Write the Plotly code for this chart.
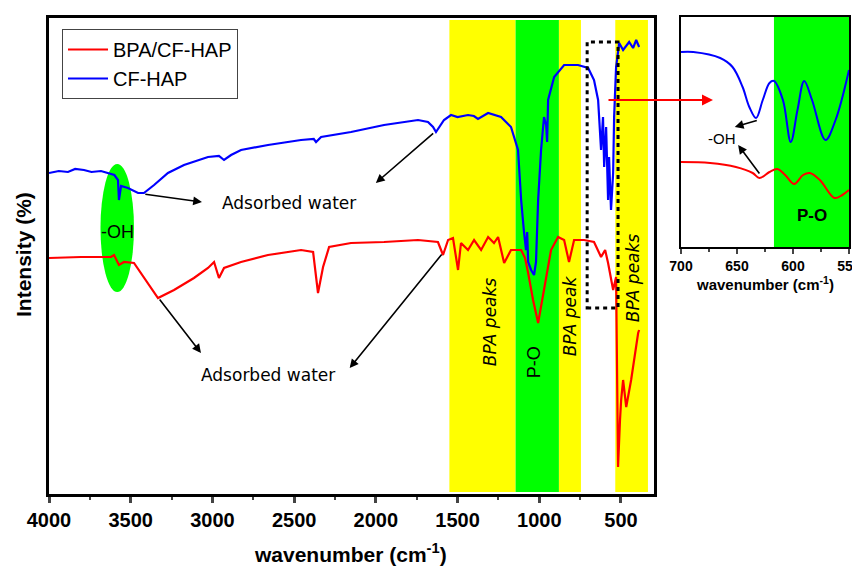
import plotly.graph_objects as go

# ---------------- data ----------------
# CF-HAP (blue) main spectrum: wavenumber (cm-1), intensity (a.u.)
wn_blue = [4000, 3940, 3884, 3840, 3786, 3740, 3682, 3639, 3600, 3578, 3572, 3559, 3517, 3455, 3419,
           3357, 3272, 3174, 3100, 3027, 2960, 2929, 2886, 2825, 2660, 2458, 2380, 2366, 2335, 2152,
           1950, 1742, 1681, 1650, 1632, 1583, 1540, 1500, 1436, 1400, 1375, 1313, 1234, 1173, 1130,
           1111, 1093, 1081, 1074, 1068, 1050, 1032, 1020, 1007, 989, 971, 958, 952, 946, 909,
           848, 763, 701, 665, 640, 634, 622, 610, 603, 591, 579, 573, 561, 548, 542,
           530, 511, 487, 450, 426, 407, 389]
int_blue = [320, 322, 321, 324, 323, 321, 322, 320, 318, 313, 293, 307, 305, 300, 300,
            308, 320, 328, 332, 336, 337, 333, 338, 343, 348, 353, 354, 351, 356, 361,
            368, 373, 371, 366, 361, 373, 378, 376, 378, 377, 374, 380, 376, 366, 343,
            293, 260, 243, 261, 231, 223, 218, 231, 293, 343, 376, 368, 351, 393, 416,
            428, 428, 425, 413, 393, 376, 343, 376, 326, 366, 293, 336, 283, 320, 376,
            426, 450, 443, 451, 445, 453, 446]

# BPA/CF-HAP (red) main spectrum
wn_red = [4000, 3804, 3621, 3602, 3572, 3541, 3480, 3419, 3333, 3235, 3113, 3027, 2990, 2960, 2929,
          2825, 2660, 2458, 2384, 2354, 2323, 2286, 2152, 1950, 1742, 1620, 1589, 1558, 1528, 1497,
          1479, 1436, 1399, 1356, 1313, 1277, 1252, 1215, 1173, 1111, 1087, 1068, 1038, 1007, 971,
          928, 885, 848, 818, 787, 726, 665, 622, 597, 579, 548, 530, 518, 506, 499,
          487, 468, 438, 413, 395, 389]
int_red = [235, 236, 236, 238, 228, 231, 230, 216, 195, 203, 215, 225, 231, 215, 225,
           231, 238, 243, 241, 200, 226, 246, 250, 251, 253, 251, 238, 253, 255, 223,
           250, 243, 253, 243, 256, 250, 256, 230, 243, 243, 235, 220, 193, 170, 203,
           243, 256, 253, 231, 253, 253, 251, 236, 243, 230, 203, 216, 26, 73, 93,
           113, 86, 113, 143, 160, 163]

# inset (700-550 cm-1)
wn_inset_blue = [700, 689, 665, 654, 645, 639, 633, 627, 621, 617, 609, 602, 596, 590, 583, 571, 562, 550]
int_inset_blue = [196, 196, 190, 181, 161, 141, 130, 148, 165, 167, 148, 106, 138, 167, 148, 108, 128, 178]
wn_inset_red = [700, 674, 651, 636, 630, 621, 614, 607, 599, 591, 585, 576, 563, 556, 550]
int_inset_red = [86, 85, 81, 75, 70, 76, 79, 73, 64, 73, 75, 68, 50, 53, 58]

# highlighted bands (cm-1)
yellow_bands = [(1550, 1145), (880, 745), (535, 335)]
green_bands = [(1145, 880)]
inset_green_band = (617, 550)
band_labels = ["BPA peaks", "P-O", "BPA peak", "BPA peaks"]
band_label_x = [1300, 1030, 810, 425]

x_ticks = [4000, 3500, 3000, 2500, 2000, 1500, 1000, 500]
inset_ticks = [700, 650, 600, 550]

RED = "#ff0000"
BLUE = "#0000ff"
YELLOW = "#ffff00"
GREEN = "#00ff00"
SANS = "Liberation Sans"
HAND = "DejaVu Sans"

# page has an 8px body margin; figure is sized so that it fills the window
OFF = 8
W, H = 860 - OFF, 570 - OFF
# screen-pixel plot area: x 49..851, y 17..494
L, T = 49 - OFF, 17 - OFF
R, B = W - (851 - OFF), H - (494 - OFF)
PW, PH = W - L - R, H - T - B


def px(xs):
    return (xs - OFF - L) / PW


def py(ys):
    return (H - B - (ys - OFF)) / PH


fig = go.Figure()

fig.add_trace(go.Scatter(x=wn_blue, y=int_blue, mode="lines", name="CF-HAP",
                         line=dict(color=BLUE, width=2.2), legendrank=2))
fig.add_trace(go.Scatter(x=wn_red, y=int_red, mode="lines", name="BPA/CF-HAP",
                         line=dict(color=RED, width=2.2), legendrank=1))
fig.add_trace(go.Scatter(x=wn_inset_blue, y=int_inset_blue, mode="lines", showlegend=False,
                         line=dict(color=BLUE, width=2, shape="spline"), xaxis="x2", yaxis="y2"))
fig.add_trace(go.Scatter(x=wn_inset_red, y=int_inset_red, mode="lines", showlegend=False,
                         line=dict(color=RED, width=2, shape="spline"), xaxis="x2", yaxis="y2"))

shapes = []
for a, b in yellow_bands:
    shapes.append(dict(type="rect", xref="x", yref="y", x0=a, x1=b, y0=1, y1=473,
                       fillcolor=YELLOW, line=dict(width=0), layer="below"))
for a, b in green_bands:
    shapes.append(dict(type="rect", xref="x", yref="y", x0=a, x1=b, y0=1, y1=473,
                       fillcolor=GREEN, line=dict(width=0), layer="below"))
# -OH ellipse
shapes.append(dict(type="circle", xref="x", yref="y", x0=3685, x1=3480, y0=201, y1=329,
                   fillcolor=GREEN, line=dict(width=0), layer="below"))
# dashed zoom box
shapes.append(dict(type="rect", xref="x", yref="y", x0=707, x1=518, y0=185, y1=451,
                   line=dict(color="black", width=3, dash="4px,4px"), fillcolor="rgba(0,0,0,0)"))
# inset band
shapes.append(dict(type="rect", xref="x2", yref="y2", x0=inset_green_band[0], x1=inset_green_band[1],
                   y0=1, y1=231, fillcolor=GREEN, line=dict(width=0), layer="below"))

ann = []
for txt, xx in zip(band_labels, band_label_x):
    if txt == "P-O":
        ann.append(dict(x=xx, y=131, xref="x", yref="y", text=txt, showarrow=False, textangle=-90,
                        font=dict(family=SANS, size=18, color="black")))
    else:
        yy = {1300: 171, 810: 177, 425: 215}[xx]
        ann.append(dict(x=xx, y=yy, xref="x", yref="y", text="<i>" + txt + "</i>", showarrow=False,
                        textangle=-90, font=dict(family=HAND, size=17, color="black")))

ann.append(dict(x=3578, y=261, xref="x", yref="y", text="-OH", showarrow=False,
                font=dict(family=SANS, size=18, color="black")))
ann.append(dict(x=2530, y=290, xref="x", yref="y", text="Adsorbed water", showarrow=False,
                font=dict(family=HAND, size=17, color="black")))
ann.append(dict(x=2660, y=118, xref="x", yref="y", text="Adsorbed water", showarrow=False,
                font=dict(family=HAND, size=17, color="black")))


def arrow(xh, yh, xt, yt, xr="x", yr="y", color="black", w=1.6):
    return dict(x=xh, y=yh, ax=xt, ay=yt, xref=xr, yref=yr, axref=xr, ayref=yr, text="",
                showarrow=True, arrowhead=2, arrowsize=1.1, arrowwidth=w, arrowcolor=color)


ann.append(arrow(3064, 291, 3420, 299))
ann.append(arrow(2000, 310, 1640, 361))
ann.append(arrow(3070, 140, 3330, 195))
ann.append(arrow(2160, 125, 1590, 240))
# inset arrows
ann.append(arrow(652, 121, 631, 128, "x2", "y2"))
ann.append(arrow(649, 103, 629, 73, "x2", "y2"))
ann.append(dict(x=663, y=110, xref="x2", yref="y2", text="-OH", showarrow=False,
                font=dict(family=SANS, size=15, color="black")))
ann.append(dict(x=583, y=33, xref="x2", yref="y2", text="<b>P-O</b>", showarrow=False,
                font=dict(family=SANS, size=17, color="black")))
# red connector arrow to inset
ann.append(dict(x=px(713), y=py(100), xref="paper", yref="paper",
                ax=-106, ay=0, text="", showarrow=True, arrowhead=2, arrowsize=1.1,
                arrowwidth=2, arrowcolor=RED))
# axis titles
ann.append(dict(x=px(350), y=py(553), xref="paper", yref="paper", showarrow=False,
                xanchor="center", yanchor="middle",
                text="<b>wavenumber (cm<sup>-1</sup>)</b>",
                font=dict(family=SANS, size=21, color="black")))
ann.append(dict(x=px(23), y=py(255), xref="paper", yref="paper", showarrow=False, textangle=-90,
                xanchor="center", yanchor="middle",
                text="<b>Intensity (%)</b>", font=dict(family=SANS, size=21, color="black")))
ann.append(dict(x=px(765), y=py(283), xref="paper", yref="paper", showarrow=False,
                xanchor="center", yanchor="middle",
                text="<b>wavenumber (cm<sup>-1</sup>)</b>",
                font=dict(family=SANS, size=15, color="black")))

axis_common = dict(showline=True, mirror=True, linecolor="black", showgrid=False, zeroline=False,
                   automargin=False)

fig.update_layout(
    width=W, height=H,
    margin=dict(l=L, r=R, t=T, b=B, autoexpand=False),
    plot_bgcolor="white", paper_bgcolor="white",
    shapes=shapes, annotations=ann,
    legend=dict(x=px(62), y=py(29), xanchor="left", yanchor="top",
                bordercolor="#444", borderwidth=1, bgcolor="white",
                font=dict(family=SANS, size=20, color="black"), tracegroupgap=0,
                itemwidth=40),
    xaxis=dict(domain=[0, px(654)], range=[4000, 298], tickmode="array", tickvals=x_ticks,
               ticks="outside", ticklen=6, tickwidth=2.5, linewidth=2.5,
               minor=dict(ticks="outside", ticklen=3, tickwidth=2, dtick=250, tick0=0),
               tickfont=dict(family=SANS, size=20, color="black", weight="bold"),
               **axis_common),
    yaxis=dict(domain=[0, py(18)], range=[-1, 475], showticklabels=False, ticks="",
               linewidth=2.5, **axis_common),
    xaxis2=dict(domain=[px(681), px(849)], anchor="y2", range=[700, 550], tickmode="array",
                tickvals=inset_ticks, ticks="outside", ticklen=5, tickwidth=2, linewidth=2,
                minor=dict(ticks="outside", ticklen=3, tickwidth=1.5, dtick=25, tick0=0),
                tickfont=dict(family=SANS, size=14, color="black", weight="bold"),
                ticklabeloverflow="allow",
                **axis_common),
    yaxis2=dict(domain=[py(247), py(17)], anchor="x2", range=[1, 231], showticklabels=False,
                ticks="", linewidth=2, **axis_common),
)

fig.write_html("out.html")
